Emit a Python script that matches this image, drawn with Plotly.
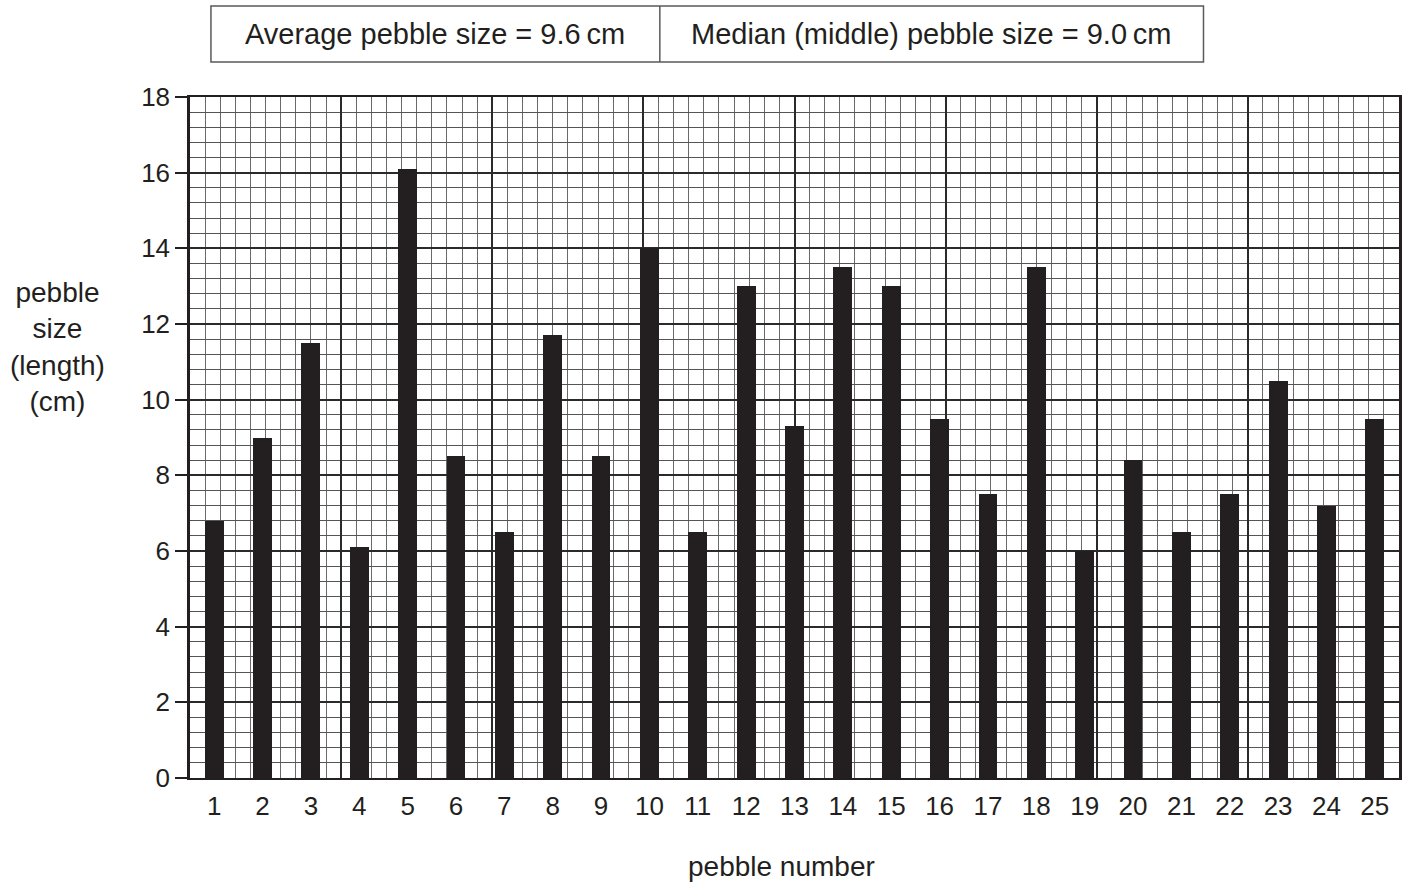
import plotly.graph_objects as go

pebble_numbers = list(range(1, 26))
pebble_sizes = [6.8, 9.0, 11.5, 6.1, 16.1, 8.5, 6.5, 11.7, 8.5, 14.0,
                6.5, 13.0, 9.3, 13.5, 13.0, 9.5, 7.5, 13.5, 6.0, 8.4,
                6.5, 7.5, 10.5, 7.2, 9.5]
average_text = "Average pebble size = 9.6\u2009cm"
median_text = "Median (middle) pebble size = 9.0\u2009cm"
x_title = "pebble number"
y_title = "pebble<br>size<br>(length)<br>(cm)"

W, H = 1411, 883
L, R, T, B = 190, 1402, 97, 778
INK = "#231f20"
FONT = "Liberation Sans, Arial, Helvetica, sans-serif"

def px(xp):
    return (xp - L) / (R - L)

def py(yp):
    return (B - yp) / (B - T)

fig = go.Figure()
# invisible trace on base axes to carry the grid
fig.add_trace(go.Scatter(x=[0, 80], y=[0, 18], mode="markers",
                         marker=dict(opacity=0), hoverinfo="skip",
                         showlegend=False, xaxis="x", yaxis="y"))
fig.add_trace(go.Bar(x=pebble_numbers, y=pebble_sizes, width=0.39,
                     marker=dict(color=INK, line=dict(width=0)),
                     showlegend=False, xaxis="x2", yaxis="y"))

fig.update_layout(
    width=W, height=H,
    margin=dict(l=L, r=W - R, t=T, b=H - B, pad=0),
    paper_bgcolor="white", plot_bgcolor="white",
    font=dict(family=FONT, color=INK, size=26),
    xaxis=dict(range=[0, 80], dtick=10, tick0=0, showticklabels=False,
               ticks="", showgrid=True, gridcolor="#2a2a2a", gridwidth=1.6,
               minor=dict(dtick=1, tick0=0, showgrid=True,
                          gridcolor="#6a6a6a", gridwidth=1),
               showline=True, linecolor=INK, linewidth=2, mirror=True,
               zeroline=False, fixedrange=True),
    xaxis2=dict(range=[0.5, 25.5], overlaying="x", anchor="y", side="bottom",
                tickmode="array", tickvals=pebble_numbers,
                ticktext=[str(n) for n in pebble_numbers],
                ticks="", ticklabelstandoff=10, showgrid=False,
                showline=False, zeroline=False,
                tickfont=dict(size=26, color=INK, family=FONT)),
    yaxis=dict(range=[0, 18], dtick=2, tick0=0, ticks="outside", ticklen=12,
               tickwidth=2, tickcolor=INK, showgrid=True,
               gridcolor="#2a2a2a", gridwidth=1.6,
               minor=dict(dtick=0.4, tick0=0, showgrid=True,
                          gridcolor="#555555", gridwidth=1),
               showline=True, linecolor=INK, linewidth=2.5, mirror=True,
               zeroline=False, tickfont=dict(size=26, color=INK, family=FONT)),
    bargap=0,
)

# header table box
box_l, box_r, box_mid, box_t, box_b = 211, 1206, 661, 6, 62
fig.add_shape(type="rect", xref="paper", yref="paper",
              x0=px(box_l), x1=px(box_r), y0=py(box_b), y1=py(box_t),
              line=dict(color="#5a5a5a", width=1.5), fillcolor="white")
fig.add_shape(type="line", xref="paper", yref="paper",
              x0=px(box_mid), x1=px(box_mid), y0=py(box_b), y1=py(box_t),
              line=dict(color="#5a5a5a", width=1.5))

fig.add_annotation(x=px((box_l + box_mid) / 2), y=py((box_t + box_b) / 2),
                   xref="paper", yref="paper", text=average_text,
                   showarrow=False, xanchor="center", yanchor="middle",
                   font=dict(size=29, color=INK, family=FONT))
fig.add_annotation(x=px((box_mid + box_r) / 2), y=py((box_t + box_b) / 2),
                   xref="paper", yref="paper", text=median_text,
                   showarrow=False, xanchor="center", yanchor="middle",
                   font=dict(size=29, color=INK, family=FONT))

fig.add_annotation(x=px(783), y=py(866), xref="paper", yref="paper",
                   text=x_title, showarrow=False, xanchor="center",
                   yanchor="middle", font=dict(size=28, color=INK, family=FONT))
fig.add_annotation(x=px(57), y=py(347), xref="paper", yref="paper",
                   text=y_title, showarrow=False, xanchor="center",
                   yanchor="middle", align="center",
                   font=dict(size=28, color=INK, family=FONT))

fig.write_html("out.html",
               config={"displayModeBar": False},
               post_script="document.body.style.margin='0';"
                           "document.body.style.padding='0';")
